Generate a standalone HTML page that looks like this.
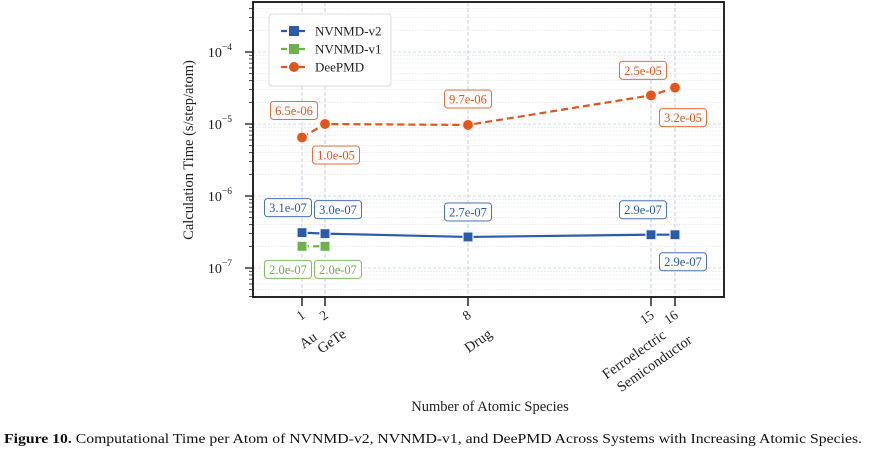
<!DOCTYPE html>
<html><head><meta charset="utf-8"><style>
html,body{margin:0;padding:0;background:#fff;width:870px;height:453px;overflow:hidden}
svg{display:block;font-family:"Liberation Serif",serif}
</style></head><body>
<svg id="chart" width="870" height="453" viewBox="0 0 870 453" xmlns="http://www.w3.org/2000/svg"></svg>
<script>
const categories = ["Au","GeTe","Drug","Ferroelectric","Semiconductor"];
const speciesCounts = [1,2,8,15,16];
const v2Values = [3.1e-7,3.0e-7,2.7e-7,2.9e-7,2.9e-7];
const v1Counts = [1,2];
const v1Values = [2.0e-7,2.0e-7];
const deepmdValues = [6.5e-6,1.0e-5,9.7e-6,2.5e-5,3.2e-5];
const v2Labels = ["3.1e-07","3.0e-07","2.7e-07","2.9e-07","2.9e-07"];
const v1Labels = ["2.0e-07","2.0e-07"];
const deepmdLabels = ["6.5e-06","1.0e-05","9.7e-06","2.5e-05","3.2e-05"];
const yTickExps = [-4,-5,-6,-7];

const NS="http://www.w3.org/2000/svg";
const svg=document.getElementById('chart');
const L=253,R=724,T=2,B=297;
const xKnotVals=[1,2,8,15,16], xKnotPix=[302,325,468,651,675];
function xs(v){
  for(let i=0;i<xKnotVals.length-1;i++){
    if(v<=xKnotVals[i+1]||i===xKnotVals.length-2){
      const a=xKnotVals[i],b=xKnotVals[i+1];
      return xKnotPix[i]+(v-a)/(b-a)*(xKnotPix[i+1]-xKnotPix[i]);
    }
  }
}
function ys(v){return 124-(Math.log10(v)+5)*72;}
function el(tag,attrs,parent){const e=document.createElementNS(NS,tag);for(const k in attrs)e.setAttribute(k,attrs[k]);(parent||svg).appendChild(e);return e;}

const grid=el('g',{});


for(let e=-8;e<=-3;e++){for(let m=1;m<=9;m++){const v=m*Math.pow(10,e);const y=ys(v);if(y<T||y>B)continue;
  el('line',{x1:L,x2:R,y1:y,y2:y,stroke:m===1?'#d5dbe3':'#e4e7ec','stroke-width':m===1?0.9:0.8,'stroke-dasharray':m===1?'3,2':'1.5,1.5'},grid);
  el('line',{x1:L-(m===1?8:4),x2:L,y1:y,y2:y,stroke:'#222','stroke-width':m===1?1.4:0.8},grid);
}}
speciesCounts.forEach(c=>{const x=xs(c);el('line',{x1:x,x2:x,y1:T,y2:B,stroke:'#c9d2de','stroke-width':1,'stroke-dasharray':'4,2'},grid);
  el('line',{x1:x,x2:x,y1:B,y2:B+9,stroke:'#222','stroke-width':1.5},grid);});
const frame=el('rect',{x:L,y:T,width:R-L,height:B-T,fill:'none',stroke:'#111','stroke-width':1.8});



yTickExps.forEach(e=>{const y=ys(Math.pow(10,e));
  const t=el('text',{x:232,y:y+5,'text-anchor':'end','font-size':14,fill:'#222'});
  
  
  t.innerHTML='10<tspan dy="-7" font-size="9.5">−'+(-e)+'</tspan>';
});
const yt=el('text',{x:0,y:0,transform:'translate(193,150) rotate(-90)','text-anchor':'middle','font-size':14.5,fill:'#222'});
yt.textContent='Calculation Time (s/step/atom)';



speciesCounts.forEach((c,i)=>{const x=xs(c);
  const t=el('text',{x:0,y:0,transform:`translate(${x+4},${B+20}) rotate(-35)`,'text-anchor':'end','font-size':13.5,fill:'#222'});
  t.textContent=String(c);
  
  
});
const catOff=[[16,42],[22,39],[25,39],[16,40],[18,45]];
categories.forEach((c,i)=>{const x=xs(speciesCounts[i]);
  const t=el('text',{x:0,y:0,transform:`translate(${x+catOff[i][0]},${B+catOff[i][1]}) rotate(-35)`,'text-anchor':'end','font-size':14.5,fill:'#222'});
  t.textContent=c;
  
  
});
const xt=el('text',{x:490,y:411,'text-anchor':'middle','font-size':14.5,fill:'#222'});
xt.textContent='Number of Atomic Species';



const BLUE='#2b5ba8',GREEN='#70b04a',ORANGE='#e0561c';
function series(name,xsV,vals,color,dash,marker){
  const g=el('g',{});
  
  
  const pts=xsV.map((c,i)=>xs(c)+','+ys(vals[i])).join(' ');
  el('polyline',{points:pts,fill:'none',stroke:color,'stroke-width':2.2,'stroke-dasharray':dash},g);
  xsV.forEach((c,i)=>{const x=xs(c),y=ys(vals[i]);let m;
    if(marker==='s')m=el('rect',{x:x-5,y:y-5,width:10,height:10,fill:color,stroke:'#eef3fa','stroke-width':1.2},g);
    else m=el('circle',{cx:x,cy:y,r:5.5,fill:color,stroke:'#fdeee6','stroke-width':1.2},g);
    
    
  });
}
series('deepmd',speciesCounts,deepmdValues,ORANGE,'7,4','o');
series('nvnmd-v1',v1Counts,v1Values,GREEN,'7,4','s');
series('nvnmd-v2',speciesCounts,v2Values,BLUE,'none','s');

function labels(name,xsV,vals,texts,offs,color){
  xsV.forEach((c,i)=>{const x=xs(c)+offs[i][0],y=ys(vals[i])+offs[i][1];
    const g=el('g',{});
    
    
    el('rect',{x:x-23.5,y:y-9,width:47,height:18,rx:3,fill:'#fcfcfc',stroke:color,'stroke-width':1,'stroke-opacity':0.85},g);
    const t=el('text',{x:x,y:y+4.5,'text-anchor':'middle','font-size':12.5,fill:color},g);t.textContent=texts[i];
  });
}
labels('deepmd',speciesCounts,deepmdValues,deepmdLabels,[[-8,-27],[11,31],[0,-26],[-8,-25],[8,30]],ORANGE);
labels('nvnmd-v2',speciesCounts,v2Values,v2Labels,[[-14,-25],[13,-24],[0,-25],[-8,-25],[8,27]],BLUE);
labels('nvnmd-v1',v1Counts,v1Values,v1Labels,[[-14,23],[13,23]],GREEN);

const lg=el('g',{});


el('rect',{x:269,y:14,width:122,height:72,rx:3,fill:'#fff',stroke:'#ddd','stroke-width':1},lg);
[['NVNMD-v2',BLUE,'s'],['NVNMD-v1',GREEN,'s'],['DeePMD',ORANGE,'o']].forEach((d,i)=>{const y=31+i*18;
  const e=el('g',{},lg);
  
  
  el('line',{x1:281,x2:307,y1:y,y2:y,stroke:d[1],'stroke-width':2.2,'stroke-dasharray':'6,3'},e);
  if(d[2]==='s')el('rect',{x:289,y:y-5,width:10,height:10,fill:d[1]},e);else el('circle',{cx:294,cy:y,r:5,fill:d[1]},e);
  const t=el('text',{x:315,y:y+4.5,'font-size':13,fill:'#222'},e);t.textContent=d[0];
});

const cap=el('text',{x:4,y:443,'font-size':13.5,fill:'#111',textLength:858,lengthAdjust:'spacingAndGlyphs'});


cap.innerHTML='<tspan font-weight="bold">Figure 10.</tspan> Computational Time per Atom of NVNMD-v2, NVNMD-v1, and DeePMD Across Systems with Increasing Atomic Species.';
</script>
</body></html>
